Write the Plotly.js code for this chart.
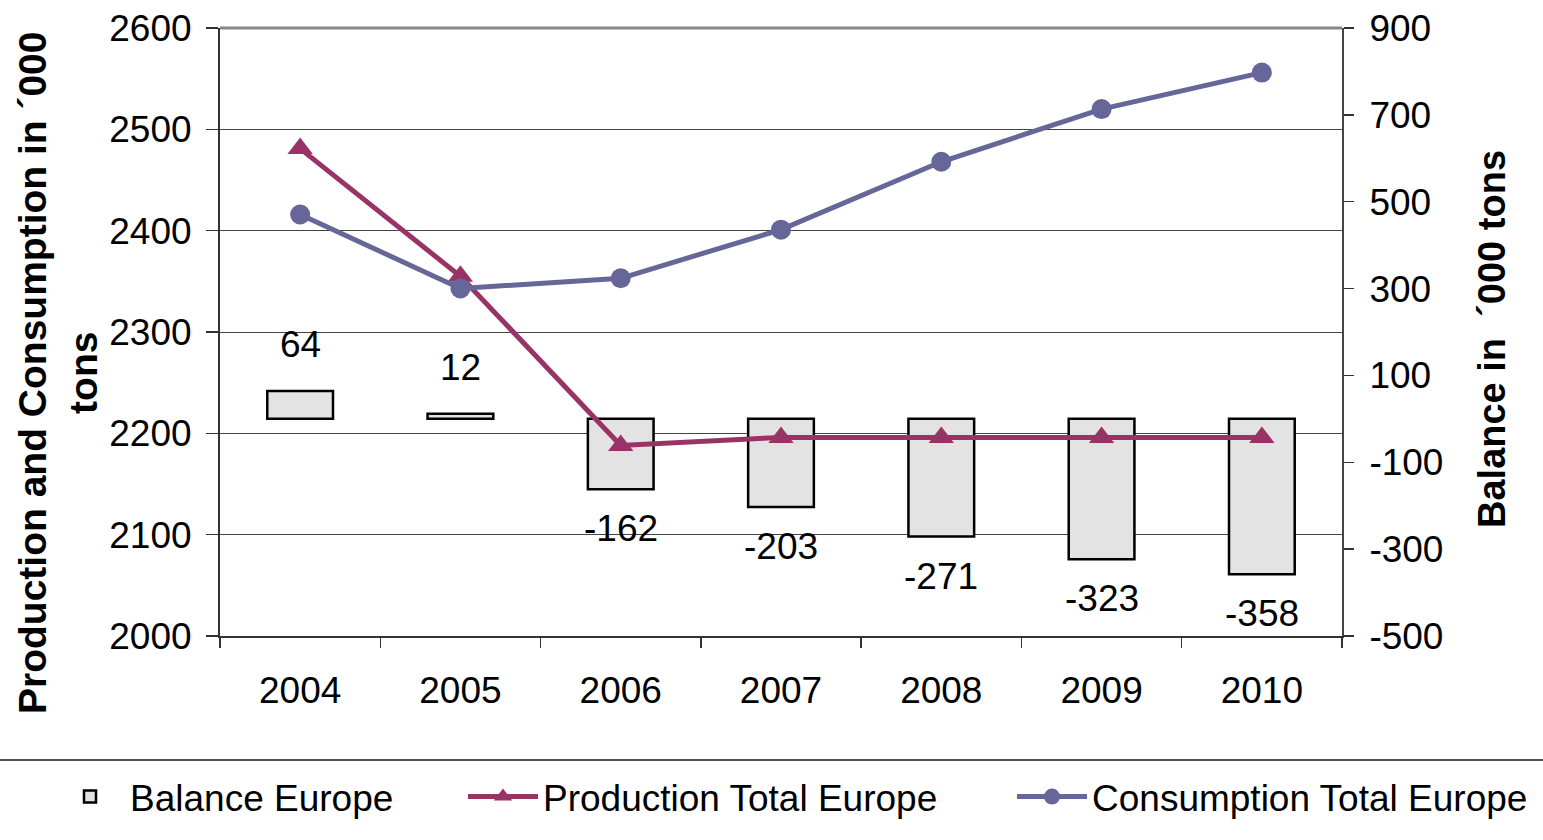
<!DOCTYPE html>
<html>
<head>
<meta charset="utf-8">
<script src="https://cdn.plot.ly/plotly-3.0.1.min.js"></script>
<style>html,body{margin:0;padding:0;background:#fff;}#chart{width:1543px;height:840px;}</style>
</head>
<body>
<div id="chart"></div>
<script>
const years = ["2004", "2005", "2006", "2007", "2008", "2009", "2010"];
const balance = [64, 12, -162, -203, -271, -323, -358];
const production = [2481, 2355, 2188, 2196, 2196, 2196, 2196];
const consumption = [2416, 2343, 2353, 2401, 2468, 2520, 2556];
const leftTicks = [2000, 2100, 2200, 2300, 2400, 2500, 2600];
const rightTicks = [-500, -300, -100, 100, 300, 500, 700, 900];

const FONT = "Liberation Sans, Arial, sans-serif";

const traces = [
  {
    type: "bar", name: "Balance Europe", x: years, y: balance, yaxis: "y",
    width: 0.41, legend: "legend",
    marker: {color: "#e3e3e3", line: {color: "#000", width: 2.5}},
    hoverinfo: "x+y"
  },
  {
    type: "scatter", mode: "lines+markers", name: "Production Total Europe",
    x: years, y: production, yaxis: "y2", legend: "legend2",
    line: {color: "#993366", width: 5},
    marker: {symbol: "triangle-up", size: 22, color: "#993366"}
  },
  {
    type: "scatter", mode: "lines+markers", name: "Consumption Total Europe",
    x: years, y: consumption, yaxis: "y2", legend: "legend3",
    line: {color: "#666699", width: 5},
    marker: {symbol: "circle", size: 20, color: "#666699"}
  }
];

const labelAnnotations = years.map((yr, i) => ({
  x: i, y: balance[i], xref: "x", yref: "y",
  text: String(balance[i]), showarrow: false,
  yanchor: balance[i] >= 0 ? "bottom" : "top",
  yshift: balance[i] >= 0 ? 24 : -17,
  font: {family: FONT, size: 37, color: "#000"}
}));

const W = 1543, H = 840, L = 220, R = 1342, T = 28, B = 636;
const px = v => (v - L) / (R - L);
const py = v => (B - v) / (B - T);

function legendAt(xPix) {
  return {
    orientation: "h", xref: "container", yref: "container",
    x: xPix / W, xanchor: "left", y: 1 - 797 / H, yanchor: "middle",
    font: {family: FONT, size: 37, color: "#000"},
    itemwidth: 70, bgcolor: "rgba(0,0,0,0)", borderwidth: 0
  };
}

const layout = {
  width: W, height: H,
  margin: {l: L, r: W - R, t: T, b: H - B, pad: 0, autoexpand: false},
  paper_bgcolor: "#fff", plot_bgcolor: "#fff",
  font: {family: FONT, size: 37, color: "#000"},
  showlegend: true,
  xaxis: {
    type: "category", range: [-0.5, years.length - 0.5], autorange: false, automargin: false,
    tickson: "boundaries", ticks: "outside", ticklen: 10,
    tickcolor: "#333", tickwidth: 1.5, tickangle: 0,
    showline: true, linecolor: "#333", linewidth: 2,
    showgrid: false, ticklabelstandoff: 21,
    tickfont: {family: FONT, size: 37, color: "#000"}
  },
  yaxis: {
    side: "right", range: [-500, 900], autorange: false, automargin: false,
    tickmode: "array", tickvals: rightTicks, ticktext: rightTicks.map(String),
    showgrid: false, zeroline: false,
    showline: true, linecolor: "#444", linewidth: 2,
    ticks: "outside", ticklen: 10, tickcolor: "#333", tickwidth: 1.5,
    ticklabelstandoff: 8,
    tickfont: {family: FONT, size: 37, color: "#000"}
  },
  yaxis2: {
    overlaying: "y", side: "left", range: [2000, 2600], autorange: false, automargin: false,
    tickmode: "array", tickvals: leftTicks, ticktext: leftTicks.map(String),
    showgrid: true, gridcolor: "#444", gridwidth: 1, zeroline: false,
    showline: true, linecolor: "#333", linewidth: 2,
    ticks: "outside", ticklen: 12, tickcolor: "#333", tickwidth: 1.5,
    ticklabelstandoff: 7,
    tickfont: {family: FONT, size: 37, color: "#000"}
  },
  legend: legendAt(50),
  legend2: legendAt(463),
  legend3: legendAt(1012),
  shapes: [
    {type: "line", xref: "paper", yref: "paper", x0: 0, x1: 1, y0: 1, y1: 1,
     line: {color: "#888", width: 3}},
    {type: "line", xref: "paper", yref: "paper", x0: px(-5), x1: px(1550), y0: py(760), y1: py(760),
     line: {color: "#555", width: 2}}
  ],
  annotations: labelAnnotations.concat([
    {xref: "paper", yref: "paper", x: px(58), y: py(373), xanchor: "center", yanchor: "middle",
     textangle: -90, showarrow: false,
     text: "Production and Consumption in ´000<br>tons",
     font: {family: FONT, size: 39, color: "#000", weight: "bold"}},
    {xref: "paper", yref: "paper", x: px(1492), y: py(339), xanchor: "center", yanchor: "middle",
     textangle: -90, showarrow: false,
     text: "Balance in  ´000 tons",
     font: {family: FONT, size: 38, color: "#000", weight: "bold"}}
  ])
};

Plotly.newPlot("chart", traces, layout, {displayModeBar: false, staticPlot: true});
</script>
</body>
</html>
